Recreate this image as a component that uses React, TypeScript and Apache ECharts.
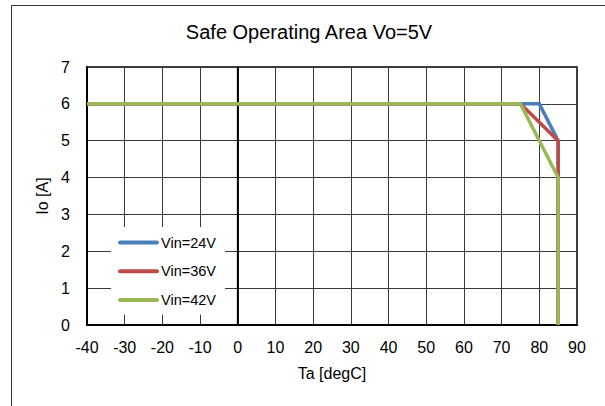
import React, { useEffect, useRef } from "react";
import * as echarts from "echarts";

const chartTitle = "Safe Operating Area Vo=5V";
const xAxisName = "Ta [degC]";
const yAxisName = "Io [A]";
const seriesNames = ["Vin=24V", "Vin=36V", "Vin=42V"];
const seriesColors = ["#4A7EBB", "#BE4B48", "#98B954"];
const vin24: [number, number][] = [[-40, 6], [80, 6], [85, 5], [85, 0]];
const vin36: [number, number][] = [[-40, 6], [75, 6], [85, 5], [85, 0]];
const vin42: [number, number][] = [[-40, 6], [75, 6], [85, 4], [85, 0]];
const zeroLine: [number, number][] = [[0, 0], [0, 7]];

export default function App() {
  const ref = useRef<HTMLDivElement>(null);
  useEffect(() => {
    if (!ref.current) return;
    const chart = echarts.init(ref.current, null, { renderer: "svg" });
    const font = "'Liberation Sans', Arial, sans-serif";
    const data = [vin24, vin36, vin42];
    chart.setOption({
      animation: false,
      backgroundColor: "#fff",
      textStyle: { fontFamily: font },
      title: {
        text: chartTitle,
        left: 309,
        top: 22,
        padding: 0,
        textAlign: "center",
        textStyle: { fontFamily: font, fontSize: 20, fontWeight: "normal", color: "#000" },
      },
      graphic: [
        {
          type: "rect",
          shape: { x: 11.5, y: 5.5, width: 640, height: 440 },
          style: { fill: "none", stroke: "#333", lineWidth: 1 },
          silent: true,
        },
      ],
      grid: {
        left: 87,
        top: 67,
        right: 28,
        bottom: 81,
        show: true,
        borderColor: "#000",
        borderWidth: 1.5,
        backgroundColor: "transparent",
      },
      legend: {
        orient: "vertical",
        left: 111,
        top: 227,
        data: seriesNames,
        backgroundColor: "#fff",
        padding: [8, 9, 7, 7],
        itemWidth: 37,
        itemHeight: 14,
        itemGap: 13.7,
        itemStyle: { opacity: 0 },
        lineStyle: { width: 4, cap: "round" },
        textStyle: { fontFamily: font, fontSize: 14.5, color: "#000", padding: [0, 0, 0, -1] },
      },
      xAxis: {
        type: "value",
        min: -40,
        max: 90,
        interval: 10,
        name: xAxisName,
        nameLocation: "middle",
        nameGap: 40,
        nameTextStyle: { fontFamily: font, fontSize: 16, color: "#000" },
        axisLine: { show: true, onZero: false, lineStyle: { color: "#000", width: 2 } },
        axisTick: { show: false },
        axisLabel: { fontFamily: font, fontSize: 16, color: "#000", margin: 14 },
        splitLine: { show: true, lineStyle: { color: "#3a3a3a", width: 1 } },
      },
      yAxis: {
        type: "value",
        min: 0,
        max: 7,
        interval: 1,
        name: yAxisName,
        nameLocation: "middle",
        nameRotate: 90,
        nameGap: 37,
        nameTextStyle: { fontFamily: font, fontSize: 16, color: "#000" },
        axisLine: { show: true, onZero: false, lineStyle: { color: "#000", width: 2 } },
        axisTick: { show: false },
        axisLabel: { fontFamily: font, fontSize: 16, color: "#000", margin: 17 },
        splitLine: { show: true, lineStyle: { color: "#3a3a3a", width: 1 } },
      },
      series: [
        {
          name: "zero",
          type: "line",
          data: zeroLine,
          symbol: "none",
          silent: true,
          lineStyle: { color: "#000", width: 1.8 },
          z: 1,
        },
        ...seriesNames.map((name, i) => ({
          name,
          type: "line",
          data: data[i],
          symbol: "none",
          color: seriesColors[i],
          lineStyle: { color: seriesColors[i], width: 3.5, cap: "butt", join: "miter" },
          z: 2 + i,
        })),
      ],
    });
    return () => chart.dispose();
  }, []);
  return (
    <div
      ref={ref}
      style={{ position: "fixed", left: 0, top: 0, width: 605, height: 406 }}
    />
  );
}
